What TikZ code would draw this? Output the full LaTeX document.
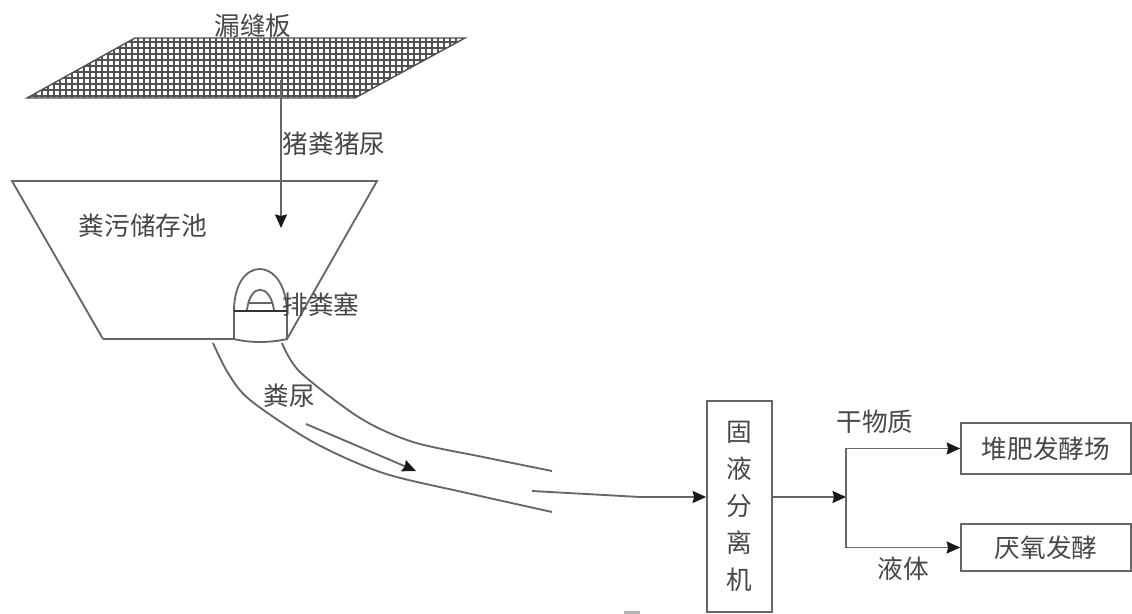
\documentclass[tikz,border=0pt]{standalone}
\usepackage{fontspec}
\setmainfont{Noto Sans CJK SC}
\usetikzlibrary{arrows.meta,calc}

\begin{document}
\begin{tikzpicture}[
  x=0.02cm,y=-0.02cm,
  outline/.style={black!60, line width=1.05pt},
  flow/.style={black!60, line width=1.05pt, -{Stealth[length=2.7mm,width=2.4mm,inset=0.3mm,color=black!90]}},
  mesh/.style={black!68, line width=1.1pt},
  caption/.style={font=\fontsize{14.6pt}{16pt}\selectfont, text=black!72, inner sep=0pt},
  stagebox/.style={draw=black!60, line width=1.05pt, font=\fontsize{14.6pt}{16pt}\selectfont, text=black!72, inner sep=0pt}
]
\useasboundingbox (0,0) rectangle (1132,614);

% Slatted floor: clipped mesh on a slanted plate.
\coordinate (slabA) at (135,38);
\coordinate (slabB) at (465,38);
\coordinate (slabC) at (355,98);
\coordinate (slabD) at (27,98);
\begin{scope}
  \clip (slabA) -- (slabB) -- (slabC) -- (slabD) -- cycle;
  \draw[mesh, step=0.12cm] (0,30) grid (480,104);
\end{scope}
\draw[mesh, line width=0.8pt] (slabA) -- (slabB) -- (slabC) -- (slabD) -- cycle;
\node[caption] (slabtxt) at (253,26) {漏缝板};

% Storage pit with the drain plug.
\coordinate (pitA) at (12,181);
\coordinate (pitB) at (377,181);
\coordinate (pitC) at (287,339);
\coordinate (pitD) at (103,339);
\draw[outline] (pitD) -- (pitA) -- (pitB) -- (pitC);
\draw[outline] (pitD) -- (234,339);
\node[caption] (pittxt) at (143,226) {粪污储存池};

\coordinate (dropA) at (281,80);
\coordinate (dropB) at (281,228);
\draw[flow] (dropA) -- (dropB);
\node[caption] (droptxt) at (334,144) {猪粪猪尿};

\draw[outline] (234,339) -- (234,311) .. controls (234,255) and (285,255) .. (287,311)
  -- (287,339) .. controls (270,343) and (250,343) .. (234,339);
\draw[outline] (247,310) .. controls (250,283) and (270,283) .. (274,310);
\draw[outline] (248,303) -- (272,303);
\draw[black!80, line width=1.2pt] (234,311) -- (288,311);
\node[caption] (plugtxt) at (321,305) {排粪塞};

% Slurry channel running out to the separator.
\draw[outline] plot[smooth] coordinates {(213,343) (228,373) (250,400) (313,442) (383,473) (467,493) (552,512)};
\draw[outline] plot[smooth] coordinates {(282,343) (300,372) (360,418) (413,442) (483,457) (552,471)};
\node[caption] (pipetxt) at (289,396) {粪尿};
\coordinate (slopeA) at (306,424);
\coordinate (slopeB) at (416,471);
\draw[flow] (slopeA) -- (slopeB);

% Separator and the two outlets.
\node[stagebox, minimum width=1.3cm, minimum height=4.22cm, align=center] (sep) at (739.5,506.5)
  {固\\[5pt]液\\[5pt]分\\[5pt]离\\[5pt]机};
\node[stagebox, minimum width=3.4cm, minimum height=1.02cm] (compost) at (1046,448.5) {堆肥发酵场};
\node[stagebox, minimum width=3.4cm, minimum height=0.94cm] (digest) at (1046,547.5) {厌氧发酵};

\coordinate (inlet) at (532,491);
\coordinate (bend) at (640,497);
\coordinate (fork) at (846,497);
\draw[outline] (inlet) -- (bend);
\draw[flow] (bend) -- (bend -| sep.west);
\draw[flow] (sep.east |- fork) -- (fork);
\draw[flow] (fork) |- (compost.west);
\draw[flow] (fork) |- (digest.west);
\node[caption] (drytxt) at (875,422) {干物质};
\node[caption] (wettxt) at (903,569) {液体};

% Cut-off stroke at the bottom edge.
\fill[black!30] (624,611) rectangle (640,614);

\end{tikzpicture}
\end{document}
